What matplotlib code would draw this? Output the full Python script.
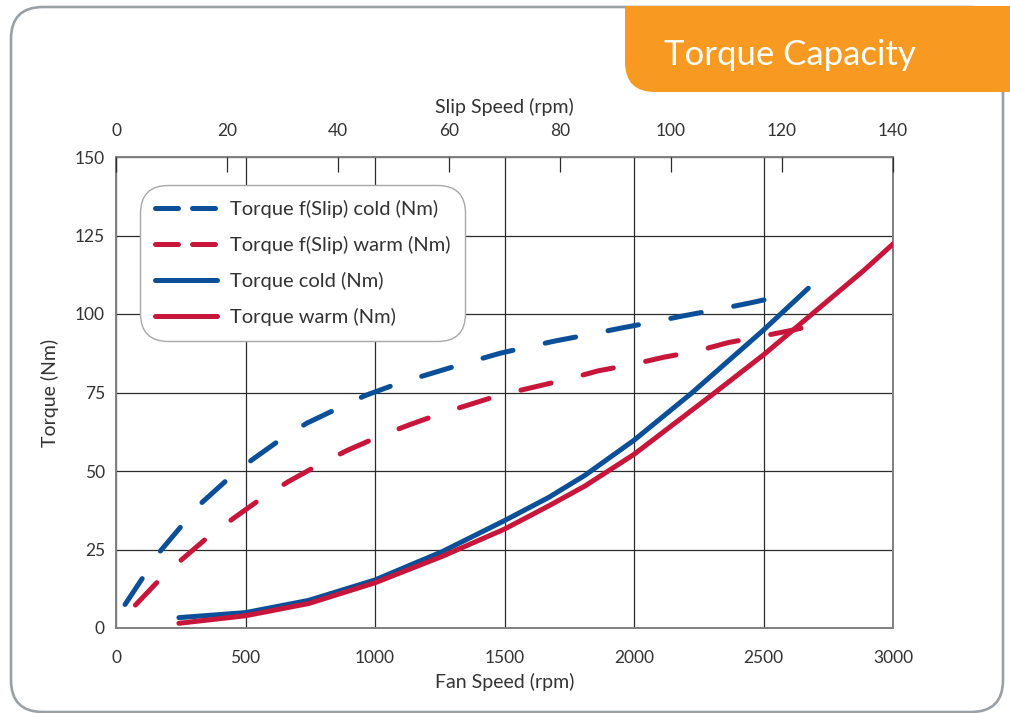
import matplotlib
matplotlib.use("Agg")
import matplotlib.pyplot as plt
from matplotlib.lines import Line2D
from matplotlib.patches import FancyBboxPatch, Rectangle
from matplotlib.transforms import IdentityTransform

plt.rcParams["font.family"] = ["Lato", "DejaVu Sans"]

BLUE = "#0a4f97"
RED = "#c8153a"
TEXT = "#333333"

# solid curves, fan speed (rpm) vs torque (Nm)
cold_fan = [243, 500, 744, 1000, 1259, 1500, 1671, 1810, 2000, 2221, 2500, 2673]
cold_torque = [3.3, 4.9, 8.8, 15.3, 24.3, 34.2, 41.6, 48.6, 59.8, 74.7, 94.9, 108.2]
warm_fan = [243, 500, 744, 1000, 1259, 1500, 1671, 1810, 2000, 2305, 2500, 2620, 2889, 3000]
warm_torque = [1.5, 3.9, 7.8, 14.4, 22.8, 31.5, 38.9, 45.2, 55.3, 74.5, 87.0, 95.3, 114.0, 122.3]

# slip curves, drawn against the fan speed scale
slip_cold_fan = [35, 100, 167, 253, 331, 433, 524, 633, 736, 858, 961, 1090, 1335,
                 1483, 1579, 1695, 1828, 1943, 2077, 2190, 2326, 2441, 2565]
slip_cold_torque = [7.5, 15.6, 24.1, 32.5, 39.9, 47.5, 53.5, 59.9, 65.2, 70.0, 74.0,
                    77.9, 84.0, 87.5, 89.3, 91.4, 93.5, 95.4, 97.5, 99.4, 101.5, 103.4, 105.6]
slip_warm_fan = [75, 157, 247, 350, 453, 562, 665, 781, 891, 1013, 1129, 1251, 1367,
                 1483, 1618, 1746, 1862, 1997, 2113, 2248, 2364, 2499, 2615, 2740]
slip_warm_torque = [7.3, 14.4, 21.3, 28.6, 34.9, 41.3, 46.6, 51.9, 56.5, 60.9, 64.6,
                    68.2, 71.2, 74.2, 76.8, 79.3, 81.9, 84.0, 86.2, 88.3, 90.9, 93.0, 94.9, 97.3]

labels = ["Torque f(Slip) cold (Nm)", "Torque f(Slip) warm (Nm)",
          "Torque cold (Nm)", "Torque warm (Nm)"]

fan_ticks = [0, 500, 1000, 1500, 2000, 2500, 3000]
slip_ticks = [0, 20, 40, 60, 80, 100, 120, 140]
torque_ticks = [0, 25, 50, 75, 100, 125, 150]

W, H = 1010, 713
fig = plt.figure(figsize=(W / 100, H / 100), dpi=100)

# rounded page border and orange title tab (pixel coords)
border = FancyBboxPatch((11, 1), 992, 705, boxstyle="round,pad=0,rounding_size=32",
                        fill=False, edgecolor="#9ba0a5", linewidth=1.9,
                        transform=IdentityTransform())
fig.patches.append(border)
tab = FancyBboxPatch((625, H - 92), 500, 200, boxstyle="round,pad=0,rounding_size=30",
                     facecolor="#f89a21", edgecolor="none", transform=IdentityTransform())
tab.set_clip_path(Rectangle((0, 0), W, H - 6, transform=IdentityTransform()))
fig.patches.append(tab)
fig.text(790 / W, 1 - 55 / H, "Torque Capacity", color="white", fontsize=25,
         ha="center", va="center")

ax = fig.add_axes([116 / W, (H - 628) / H, 777 / W, 471 / H])
lw = 3.6
dash = (0, (6.2, 6.6))
ax.plot(slip_cold_fan, slip_cold_torque, color=BLUE, lw=lw, linestyle=dash,
        dash_capstyle="round")
ax.plot(slip_warm_fan, slip_warm_torque, color=RED, lw=lw, linestyle=dash,
        dash_capstyle="round")
ax.plot(cold_fan, cold_torque, color=BLUE, lw=lw, solid_capstyle="round",
        solid_joinstyle="round", zorder=3)
ax.plot(warm_fan, warm_torque, color=RED, lw=lw, solid_capstyle="round",
        solid_joinstyle="round", zorder=3)

ax.set_xlim(0, 3000)
ax.set_ylim(0, 150)
ax.set_xticks(fan_ticks)
ax.set_yticks(torque_ticks)
ax.grid(True, color="#2b2b2b", linewidth=0.9)
ax.set_axisbelow(True)
ax.tick_params(axis="x", length=0, pad=16, labelsize=12.5, labelcolor=TEXT)
ax.tick_params(axis="y", length=0, pad=8, labelsize=12.5, labelcolor=TEXT)
for s in ax.spines.values():
    s.set_color("#808080")
    s.set_linewidth(1.4)
ax.set_xlabel("Fan Speed (rpm)", fontsize=14, color=TEXT, labelpad=5)
ax.set_ylabel("Torque (Nm)", fontsize=14, color=TEXT, labelpad=11)

top = ax.twiny()
top.set_xlim(0, 140)
top.set_xticks(slip_ticks)
top.tick_params(axis="x", direction="in", length=11, width=0.9, color="#2b2b2b",
                pad=13, labelsize=12.5, labelcolor=TEXT)
for s in top.spines.values():
    s.set_visible(False)
top.set_xlabel("Slip Speed (rpm)", fontsize=14, color=TEXT, labelpad=7)

leg_dash = (0, (4.6, 2.8))
handles = [
    Line2D([], [], color=BLUE, lw=lw, linestyle=leg_dash, dash_capstyle="round"),
    Line2D([], [], color=RED, lw=lw, linestyle=leg_dash, dash_capstyle="round"),
    Line2D([], [], color=BLUE, lw=lw, solid_capstyle="round"),
    Line2D([], [], color=RED, lw=lw, solid_capstyle="round"),
]
leg = ax.legend(handles, labels, loc="upper left", bbox_to_anchor=(0.031, 0.94),
                borderaxespad=0, fontsize=14.5, handlelength=3.1, handletextpad=0.65,
                labelspacing=0.9, borderpad=0.72, frameon=True, fancybox=True,
                labelcolor=TEXT)
frame = leg.get_frame()
frame.set_boxstyle("round,pad=0,rounding_size=1.4")
frame.set_edgecolor("#a8a8a8")
frame.set_linewidth(1.0)
frame.set_alpha(1)

fig.savefig("out.png", dpi=100)
